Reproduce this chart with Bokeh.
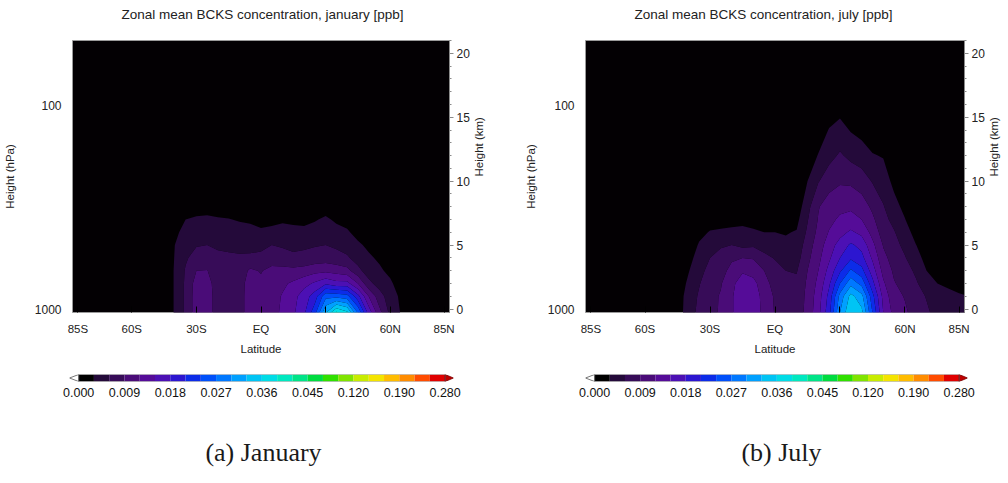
import numpy as np
from bokeh.plotting import figure
from bokeh.layouts import column, row
from bokeh.models import Range1d, LinearAxis, FixedTicker, Label
from bokeh.embed import file_html
from bokeh.resources import INLINE

# ---------------- data ----------------
lat = [-90, -50, -45, -40, -35, -30, -25, -20, -15, -10, -5, 0, 5, 10, 15,
       20, 25, 30, 35, 40, 45, 50, 55, 60, 65, 70, 75, 80, 85, 90]
# lowest model level sits just below the 1000 hPa surface
height_km = [-0.3, 1, 2, 3, 4, 5, 6, 7, 8, 10, 12, 14, 16, 21]

# one profile (values at height_km) per latitude, ppb
jan_profiles = [
    [0, 0, 0, 0, 0, 0, 0, 0, 0, 0, 0, 0, 0, 0],
    [.0005, .0005, .0005, .0005, .0005, .0004, .0003, .0002, 0, 0, 0, 0, 0, 0],
    [.0015, .0015, .0015, .0015, .0015, .0014, .0012, .0008, .0004, 0, 0, 0, 0, 0],
    [.0032, .0032, .0032, .0032, .0031, .0030, .0026, .0018, .0008, 0, 0, 0, 0, 0],
    [.0065, .0065, .0065, .0063, .0056, .0045, .0036, .0030, .0018, .0003, 0, 0, 0, 0],
    [.0105, .0105, .0102, .0090, .0072, .0058, .0044, .0033, .0021, .0004, 0, 0, 0, 0],
    [.0105, .0105, .0102, .0091, .0072, .0060, .0046, .0034, .0022, .0004, 0, 0, 0, 0],
    [.0075, .0075, .0074, .0072, .0066, .0056, .0045, .0032, .0021, .0004, 0, 0, 0, 0],
    [.0075, .0075, .0074, .0071, .0064, .0055, .0043, .0031, .0019, .0003, 0, 0, 0, 0],
    [.0078, .0078, .0077, .0074, .0063, .0054, .0040, .0028, .0016, .0002, 0, 0, 0, 0],
    [.0105, .0105, .0104, .0095, .0064, .0053, .0038, .0026, .0014, 0, 0, 0, 0, 0],
    [.0098, .0098, .0096, .0088, .0068, .0052, .0034, .0022, .0012, 0, 0, 0, 0, 0],
    [.0110, .0110, .0108, .0100, .0072, .0060, .0036, .0024, .0013, 0, 0, 0, 0, 0],
    [.0125, .0122, .0115, .0100, .0070, .0057, .0040, .0026, .0014, 0, 0, 0, 0, 0],
    [.0145, .0140, .0125, .0098, .0066, .0053, .0038, .0024, .0013, 0, 0, 0, 0, 0],
    [.0175, .0165, .0140, .0102, .0068, .0055, .0036, .0024, .0014, 0, 0, 0, 0, 0],
    [.0230, .0195, .0155, .0110, .0072, .0058, .0040, .0028, .0016, 0, 0, 0, 0, 0],
    [.0330, .0260, .0175, .0112, .0075, .0060, .0046, .0034, .0020, .0003, 0, 0, 0, 0],
    [.0400, .0260, .0160, .0108, .0070, .0055, .0038, .0026, .0014, 0, 0, 0, 0, 0],
    [.0370, .0250, .0160, .0100, .0064, .0048, .0033, .0022, .0012, 0, 0, 0, 0, 0],
    [.0270, .0190, .0120, .0068, .0048, .0034, .0022, .0012, .0005, 0, 0, 0, 0, 0],
    [.0170, .0120, .0068, .0046, .0034, .0025, .0015, .0007, .0002, 0, 0, 0, 0, 0],
    [.0100, .0072, .0048, .0034, .0026, .0018, .0010, .0003, 0, 0, 0, 0, 0, 0],
    [.0052, .0045, .0034, .0024, .0016, .0010, .0005, 0, 0, 0, 0, 0, 0, 0],
    [.0028, .0024, .0018, .0012, .0008, .0005, .0002, 0, 0, 0, 0, 0, 0, 0],
    [.0010, .0008, .0006, .0004, .0002, 0, 0, 0, 0, 0, 0, 0, 0, 0],
    [.0004, .0003, .0002, 0, 0, 0, 0, 0, 0, 0, 0, 0, 0, 0],
    [0, 0, 0, 0, 0, 0, 0, 0, 0, 0, 0, 0, 0, 0],
    [0, 0, 0, 0, 0, 0, 0, 0, 0, 0, 0, 0, 0, 0],
    [0, 0, 0, 0, 0, 0, 0, 0, 0, 0, 0, 0, 0, 0],
]

jul_profiles = [
    [0, 0, 0, 0, 0, 0, 0, 0, 0, 0, 0, 0, 0, 0],
    [0, 0, 0, 0, 0, 0, 0, 0, 0, 0, 0, 0, 0, 0],
    [.0015, .0015, .0013, .0010, .0007, .0004, .0002, 0, 0, 0, 0, 0, 0, 0],
    [.0045, .0042, .0035, .0028, .0020, .0012, .0006, 0, 0, 0, 0, 0, 0, 0],
    [.0068, .0064, .0058, .0050, .0042, .0033, .0022, .0010, .0003, 0, 0, 0, 0, 0],
    [.0085, .0083, .0078, .0070, .0060, .0046, .0032, .0018, .0008, 0, 0, 0, 0, 0],
    [.0092, .0092, .0088, .0078, .0066, .0058, .0034, .0020, .0009, 0, 0, 0, 0, 0],
    [.0115, .0115, .0110, .0100, .0085, .0060, .0036, .0021, .0010, 0, 0, 0, 0, 0],
    [.0150, .0150, .0140, .0115, .0090, .0052, .0038, .0022, .0010, 0, 0, 0, 0, 0],
    [.0140, .0138, .0130, .0108, .0088, .0055, .0034, .0020, .0009, 0, 0, 0, 0, 0],
    [.0110, .0108, .0100, .0090, .0068, .0048, .0030, .0018, .0008, 0, 0, 0, 0, 0],
    [.0088, .0086, .0080, .0070, .0058, .0042, .0030, .0018, .0008, 0, 0, 0, 0, 0],
    [.0075, .0072, .0068, .0060, .0048, .0036, .0028, .0018, .0008, 0, 0, 0, 0, 0],
    [.0072, .0070, .0066, .0058, .0048, .0040, .0032, .0022, .0012, .0002, 0, 0, 0, 0],
    [.0100, .0098, .0095, .0090, .0082, .0075, .0065, .0058, .0050, .0030, .0008, 0, 0, 0],
    [.0140, .0135, .0128, .0120, .0112, .0105, .0098, .0092, .0088, .0058, .0032, .0010, 0, 0],
    [.0200, .0190, .0175, .0160, .0145, .0135, .0122, .0112, .0104, .0078, .0050, .0032, .0005, 0],
    [.0300, .0280, .0240, .0205, .0180, .0162, .0140, .0125, .0112, .0086, .0064, .0040, .0018, 0],
    [.0360, .0340, .0290, .0245, .0205, .0185, .0155, .0130, .0115, .0084, .0052, .0028, .0005, 0],
    [.0340, .0310, .0260, .0220, .0190, .0170, .0142, .0120, .0105, .0075, .0045, .0020, 0, 0],
    [.0240, .0220, .0190, .0165, .0145, .0128, .0110, .0096, .0084, .0058, .0032, .0012, 0, 0],
    [.0150, .0140, .0125, .0110, .0098, .0088, .0076, .0068, .0062, .0045, .0028, .0008, 0, 0],
    [.0110, .0100, .0092, .0085, .0078, .0070, .0062, .0052, .0040, .0022, .0006, 0, 0, 0],
    [.0095, .0088, .0080, .0072, .0062, .0052, .0042, .0031, .0022, .0008, 0, 0, 0, 0],
    [.0078, .0072, .0064, .0055, .0042, .0031, .0020, .0010, 0, 0, 0, 0, 0, 0],
    [.0065, .0058, .0045, .0030, .0020, .0012, .0005, 0, 0, 0, 0, 0, 0, 0],
    [.0050, .0044, .0030, .0020, .0010, .0004, 0, 0, 0, 0, 0, 0, 0, 0],
    [.0042, .0038, .0025, .0015, .0008, .0003, 0, 0, 0, 0, 0, 0, 0, 0],
    [.0040, .0033, .0020, .0012, .0006, 0, 0, 0, 0, 0, 0, 0, 0, 0],
    [.0038, .0030, .0018, .0010, .0005, 0, 0, 0, 0, 0, 0, 0, 0, 0],
]

# contour levels (ppb) and colours of the bands between them
levels = [0.000, 0.003, 0.006, 0.009, 0.012, 0.015, 0.018, 0.021, 0.024,
          0.027, 0.030, 0.033, 0.036, 0.039, 0.042, 0.045, 0.070, 0.095,
          0.120, 0.143, 0.167, 0.190, 0.220, 0.250, 0.280]
palette = ["#000000", "#240a3a", "#370c58", "#4a0c78", "#550c98", "#4c10b4",
           "#2c16d0", "#0c2ce8", "#0050fa", "#0078ff", "#00a0ff", "#00c4f4",
           "#00dce6", "#00e8c0", "#00e488", "#00dc40", "#30e000", "#80e400",
           "#c8ec00", "#f4e400", "#ffbc00", "#ff8c00", "#ff4c00", "#e00000"]
cbar_label_every = 3

lat_ticks = [-85, -60, -30, 0, 30, 60, 85]
lat_labels = ["85S", "60S", "30S", "EQ", "30N", "60N", "85N"]
km_ticks = [0, 5, 10, 15, 20]
hpa_ticks = [1000, 100]
scale_height = 6.9

months = ["january", "july"]
captions = ["(a) January", "(b) July"]

FONT = "Liberation Sans"
TXT = "#222222"


def title_strip(month, cx):
    t = figure(width=504, height=28, x_range=Range1d(0, 504), y_range=Range1d(0, 28),
               output_backend="svg", toolbar_location=None, x_axis_location=None,
               y_axis_location=None, min_border=0, outline_line_color=None,
               border_fill_color="white", background_fill_color="white")
    t.grid.visible = False
    t.add_layout(Label(x=cx, y=14, text=f"Zonal mean BCKS concentration, {month} [ppb]",
                       text_align="center", text_baseline="middle",
                       text_font=FONT, text_font_size="13.5px", text_color=TXT))
    return t


def panel(profiles, bl, br, hpa_standoff):
    z = np.array(profiles, dtype=float).T
    p = figure(width=504, height=332, x_range=Range1d(-87.5, 87.5),
               y_range=Range1d(-0.27, 21.0), output_backend="svg",
               toolbar_location=None, min_border_left=bl, min_border_right=br,
               min_border_top=12, min_border_bottom=48,
               background_fill_color="#030003", border_fill_color="white",
               outline_line_color="#9a9a9a")
    p.grid.visible = False

    p.contour(lat, height_km, z, levels[1:], fill_color=palette[1:])

    # bottom latitude axis
    xa = p.xaxis[0]
    xa.ticker = FixedTicker(ticks=lat_ticks)
    xa.major_label_overrides = dict(zip(lat_ticks, lat_labels))
    xa.axis_label = "Latitude"
    xa.axis_line_color = None
    xa.major_tick_in = 6
    xa.major_tick_out = 0
    xa.major_tick_line_color = "black"
    xa.minor_tick_line_color = None
    xa.major_label_standoff = 10
    xa.axis_label_standoff = 5

    # left pressure axis (height coordinate converted from hPa)
    hpa_pos = [round(scale_height * float(np.log(1000.0 / h)), 4) for h in hpa_ticks]
    ya = p.yaxis[0]
    ya.ticker = FixedTicker(ticks=hpa_pos)
    ya.major_label_overrides = {pos: str(h) for pos, h in zip(hpa_pos, hpa_ticks)}
    ya.axis_label = "Height (hPa)"
    ya.axis_line_color = None
    ya.major_tick_line_color = None
    ya.minor_tick_line_color = None
    ya.major_label_standoff = 5
    ya.axis_label_standoff = hpa_standoff

    # right km axis
    ra = LinearAxis(ticker=FixedTicker(ticks=km_ticks, minor_ticks=list(range(0, 22))),
                    axis_label="Height (km)")
    ra.axis_line_color = "#8a8a8a"
    ra.major_tick_line_color = "#8a8a8a"
    ra.minor_tick_line_color = "#8a8a8a"
    ra.major_tick_in = 0
    ra.major_tick_out = 4
    ra.minor_tick_in = 0
    ra.minor_tick_out = 2
    ra.major_label_standoff = 3
    ra.axis_label_standoff = 6
    ra.axis_label_orientation = float(np.pi / 2)
    p.add_layout(ra, "right")

    for ax in (xa, ya, ra):
        ax.major_label_text_font = FONT
        ax.major_label_text_font_size = "12px"
        ax.major_label_text_color = TXT
        ax.axis_label_text_font = FONT
        ax.axis_label_text_font_size = "11.5px"
        ax.axis_label_text_font_style = "normal"
        ax.axis_label_text_color = TXT
    xa.major_label_text_font_size = "11.5px"
    return p


def colorbar(bl, br):
    c = figure(width=504, height=50, x_range=Range1d(-0.6, len(palette) + 0.55),
               y_range=Range1d(0, 1), output_backend="svg", toolbar_location=None,
               min_border_left=bl, min_border_right=br, min_border_top=14,
               min_border_bottom=29, outline_line_color=None,
               background_fill_color="white", border_fill_color="white")
    c.grid.visible = False
    c.yaxis.visible = False
    idx = list(range(len(palette)))
    c.quad(left=idx, right=[i + 1 for i in idx], bottom=0, top=1,
           fill_color=palette, line_color=None)
    n = len(palette)
    c.patches(xs=[[0, -0.6, 0], [n, n + 0.55, n]], ys=[[0, 0.5, 1], [0, 0.5, 1]],
              fill_color=["white", "#c00000"], line_color=["#555555", "#7a0000"],
              line_width=0.8)
    c.quad(left=[0], right=[n], bottom=[0], top=[1], fill_color=None,
           line_color="#555555", line_width=0.6)
    ticks = list(range(0, len(levels), cbar_label_every))
    xa = c.xaxis[0]
    xa.ticker = FixedTicker(ticks=ticks)
    xa.major_label_overrides = {i: f"{levels[i]:.3f}" for i in ticks}
    xa.axis_line_color = None
    xa.major_tick_line_color = None
    xa.minor_tick_line_color = None
    xa.major_label_standoff = 0
    xa.major_label_text_font = FONT
    xa.major_label_text_font_size = "12.5px"
    xa.major_label_text_color = "#111111"
    return c


t1 = title_strip(months[0], 262)
t2 = title_strip(months[1], 259)
p1 = panel(jan_profiles, 69, 55, 16)
p2 = panel(jul_profiles, 81, 43, 8)
c1 = colorbar(69, 51)
c2 = colorbar(81, 41)

cap = figure(width=1008, height=73, x_range=Range1d(0, 1008), y_range=Range1d(0, 73),
             output_backend="svg", toolbar_location=None, x_axis_location=None,
             y_axis_location=None, min_border=0, outline_line_color=None,
             border_fill_color="white", background_fill_color="white")
cap.grid.visible = False
for cx, txt in zip([263, 781], captions):
    cap.add_layout(Label(x=cx, y=31, text=txt, text_align="center",
                         text_baseline="middle", text_font="Liberation Serif",
                         text_font_size="26px", text_color="#1a1a1a"))

layout = column(row(t1, t2), row(p1, p2), row(c1, c2), cap)
open("out.html", "w").write(file_html(layout, INLINE))
